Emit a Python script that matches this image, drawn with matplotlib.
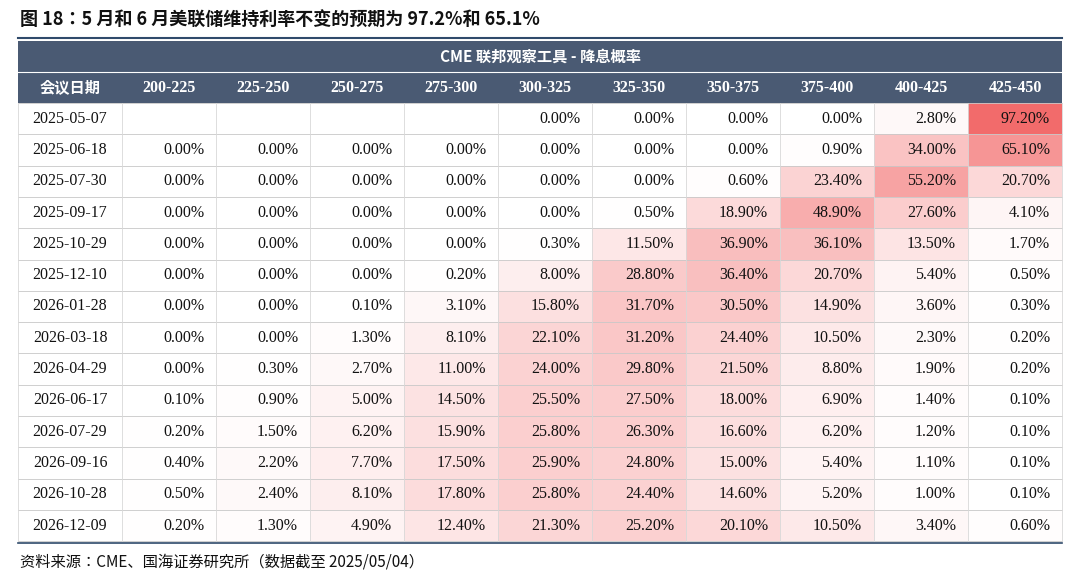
import matplotlib
matplotlib.use("Agg")
import matplotlib.pyplot as plt
from matplotlib import font_manager
from matplotlib.colors import LinearSegmentedColormap
import numpy as np

dates = ["2025-05-07", "2025-06-18", "2025-07-30", "2025-09-17", "2025-10-29", "2025-12-10",
         "2026-01-28", "2026-03-18", "2026-04-29", "2026-06-17", "2026-07-29", "2026-09-16",
         "2026-10-28", "2026-12-09"]
ranges = ["200-225", "225-250", "250-275", "275-300", "300-325", "325-350",
          "350-375", "375-400", "400-425", "425-450"]
nan = np.nan
probs = np.array([
    [nan, nan, nan, nan, 0.00, 0.00, 0.00, 0.00, 2.80, 97.20],
    [0.00, 0.00, 0.00, 0.00, 0.00, 0.00, 0.00, 0.90, 34.00, 65.10],
    [0.00, 0.00, 0.00, 0.00, 0.00, 0.00, 0.60, 23.40, 55.20, 20.70],
    [0.00, 0.00, 0.00, 0.00, 0.00, 0.50, 18.90, 48.90, 27.60, 4.10],
    [0.00, 0.00, 0.00, 0.00, 0.30, 11.50, 36.90, 36.10, 13.50, 1.70],
    [0.00, 0.00, 0.00, 0.20, 8.00, 28.80, 36.40, 20.70, 5.40, 0.50],
    [0.00, 0.00, 0.10, 3.10, 15.80, 31.70, 30.50, 14.90, 3.60, 0.30],
    [0.00, 0.00, 1.30, 8.10, 22.10, 31.20, 24.40, 10.50, 2.30, 0.20],
    [0.00, 0.30, 2.70, 11.00, 24.00, 29.80, 21.50, 8.80, 1.90, 0.20],
    [0.10, 0.90, 5.00, 14.50, 25.50, 27.50, 18.00, 6.90, 1.40, 0.10],
    [0.20, 1.50, 6.20, 15.90, 25.80, 26.30, 16.60, 6.20, 1.20, 0.10],
    [0.40, 2.20, 7.70, 17.50, 25.90, 24.80, 15.00, 5.40, 1.10, 0.10],
    [0.50, 2.40, 8.10, 17.80, 25.80, 24.40, 14.60, 5.20, 1.00, 0.10],
    [0.20, 1.30, 4.90, 12.40, 21.30, 25.20, 20.10, 10.50, 3.40, 0.60],
])

title = "图 18：5 月和 6 月美联储维持利率不变的预期为 97.2%和 65.1%"
banner = "CME 联邦观察工具 - 降息概率"
source = "资料来源：CME、国海证券研究所（数据截至 2025/05/04）"

# pick whichever CJK family matplotlib registered
names = sorted({f.name for f in font_manager.fontManager.ttflist if "CJK" in f.name})
cjk = next((n for n in names if n.endswith("SC")), names[0] if names else "DejaVu Sans")
serif = "Liberation Serif"
header_bg = "#4A5A73"
cmap = LinearSegmentedColormap.from_list("wr", ["#FFFFFF", "#F26B6B"])

fig = plt.figure(figsize=(10.8, 5.81), dpi=100)
ax = fig.add_axes([0, 0, 1, 1])
ax.set_xlim(0, 1080)
ax.set_ylim(581, 0)
ax.axis("off")

x0, x_first, col_w = 18, 122, 94
xs = [x0, x_first] + [x_first + col_w * (i + 1) for i in range(len(ranges))]
y_banner, y_head, row_h = 41, 72, 31.3
y_rows = y_head + 31

ax.text(20, 20, title, fontsize=13, fontweight="bold", fontfamily=cjk, va="center", color="#111111")
ax.plot([18, 1062], [38, 38], color="#2F4A6B", lw=1.5)

# banner and header
ax.add_patch(plt.Rectangle((x0, y_banner), xs[-1] - x0, y_rows - y_banner, color=header_bg, lw=0))
ax.text((x0 + xs[-1]) / 2, (y_banner + y_head) / 2, banner, fontsize=11, color="white",
        fontweight="bold", fontfamily=cjk, ha="center", va="center")
ax.plot([x0, xs[-1]], [y_head, y_head], color="white", lw=0.8)
ax.text((xs[0] + xs[1]) / 2, (y_head + y_rows) / 2, "会议日期", fontsize=11, color="white",
        fontweight="bold", fontfamily=cjk, ha="center", va="center")
for j, r in enumerate(ranges):
    ax.text((xs[j + 1] + xs[j + 2]) / 2, (y_head + y_rows) / 2, r, fontsize=11.5, color="white",
            fontweight="bold", fontfamily=serif, ha="center", va="center")

for i, d in enumerate(dates):
    y = y_rows + i * row_h
    ax.text((xs[0] + xs[1]) / 2, y + row_h / 2, d, fontsize=11.5, fontfamily=serif,
            ha="center", va="center", color="#111111")
    for j in range(len(ranges)):
        v = probs[i, j]
        if np.isnan(v):
            continue
        ax.add_patch(plt.Rectangle((xs[j + 1], y), col_w, row_h,
                                   color=cmap(min(v / 97.2, 1.0) ** 0.85), lw=0))
        ax.text(xs[j + 2] - 12, y + row_h / 2, f"{v:.2f}%", fontsize=11.5, fontfamily=serif,
                ha="right", va="center", color="#111111")

y_end = y_rows + len(dates) * row_h
for i in range(len(dates) + 1):
    y = y_rows + i * row_h
    ax.plot([x0, xs[-1]], [y, y], color="#C8C8C8", lw=0.6)
for x in xs:
    ax.plot([x, x], [y_rows, y_end], color="#D8D8D8", lw=0.6)
ax.plot([x0, xs[-1]], [y_end + 2, y_end + 2], color="#2F4A6B", lw=1.2)

ax.text(20, 562, source, fontsize=11, fontfamily=cjk, va="center", color="#111111")

fig.savefig("out.png", dpi=100)
